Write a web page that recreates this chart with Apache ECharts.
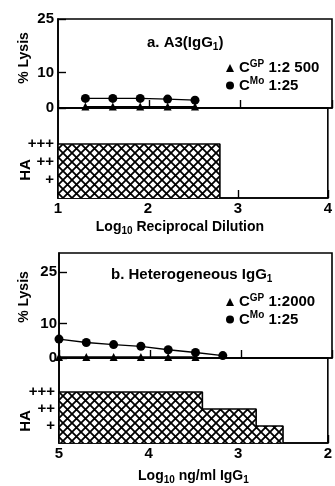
<!DOCTYPE html>
<html>
<head>
<meta charset="utf-8">
<script src="https://cdn.jsdelivr.net/npm/echarts@6/dist/echarts.min.js"></script>
<style>
  html, body { margin: 0; padding: 0; background: #fff; }
  #chart { width: 335px; height: 486px; }
</style>
</head>
<body>
<div id="chart"></div>
<script>
// panel a: A3 (IgG1), x = log10 reciprocal dilution
const dilutionA = [1.3, 1.6, 1.9, 2.2, 2.5];
const lysisMoA = [2.7, 2.7, 2.7, 2.5, 2.2];
const lysisGpA = [0.4, 0.4, 0.4, 0.4, 0.4];
const haEdgesA = [1, 2.8];
const haLevelsA = [3];

// panel b: heterogeneous IgG1, x = log10 ng/ml IgG1
const concB = [5, 4.7, 4.4, 4.1, 3.8, 3.5, 3.2];
const lysisMoB = [5.5, 4.5, 3.9, 3.4, 2.4, 1.6, 0.7];
const concGpB = [5, 4.7, 4.4, 4.1, 3.8, 3.5];
const lysisGpB = [0.3, 0.3, 0.3, 0.3, 0.3, 0.3];
const haEdgesB = [5, 3.4, 2.8, 2.5];
const haLevelsB = [3, 2, 1];

const lysisTicks = [0, 10, 25];
const haTicks = [1, 2, 3];
const haLabels = { 1: '+', 2: '++', 3: '+++' };

const FONT = "'Liberation Sans', Arial, sans-serif";

// crosshatch fill
function hatch() {
  const p = 9;
  const c = document.createElement('canvas');
  c.width = p; c.height = p;
  const g = c.getContext('2d');
  g.fillStyle = '#fff';
  g.fillRect(0, 0, p, p);
  g.strokeStyle = '#000';
  g.lineWidth = 1.8;
  g.beginPath();
  g.moveTo(-1, -1); g.lineTo(p + 1, p + 1);
  g.moveTo(-1, p + 1); g.lineTo(p + 1, -1);
  g.stroke();
  return { image: c, repeat: 'repeat' };
}

function stepOutline(edges, levels) {
  const pts = [[edges[0], 0]];
  levels.forEach((lv, i) => {
    pts.push([edges[i], lv]);
    pts.push([edges[i + 1], lv]);
  });
  pts.push([edges[edges.length - 1], 0]);
  return pts;
}

const zip = (xs, ys) => xs.map((x, i) => [x, ys[i]]);

function richSet(size) {
  return {
    b: { fontSize: size, fontWeight: 'bold', fontFamily: FONT, color: '#000', lineHeight: 18 },
    s: { fontSize: 10, fontWeight: 'bold', fontFamily: FONT, color: '#000', lineHeight: 9, verticalAlign: 'top' },
    d: { fontSize: 10, fontWeight: 'bold', fontFamily: FONT, color: '#000', lineHeight: 9, verticalAlign: 'bottom' }
  };
}
const rich15 = richSet(15);
const rich14 = richSet(14);

const legendText = {
  'CGP 1:2 500': '{b|C}{s|GP}{b| 1:2 500}',
  'CGP 1:2000': '{b|C}{s|GP}{b| 1:2000}',
  'CMo 1:25': '{b|C}{s|Mo}{b| 1:25}'
};

const chart = echarts.init(document.getElementById('chart'), null, { renderer: 'canvas' });

const frame = { show: true, borderColor: '#000', borderWidth: 1.6, backgroundColor: 'transparent' };

function xAxisDef(grid, min, max, inverse, labels, name, nameOffset, gap) {
  return {
    type: 'value', gridIndex: grid, min: min, max: max, interval: 1, inverse: inverse,
    axisLine: { show: true, onZero: false, lineStyle: { color: '#000', width: 1.6 } },
    axisTick: { show: true, inside: true, length: 8, lineStyle: { color: '#000', width: 1.4 } },
    axisLabel: { show: labels, margin: 3, fontSize: 15, fontWeight: 'bold', fontFamily: FONT, color: '#000' },
    splitLine: { show: false },
    name: name, nameLocation: 'middle', nameGap: gap,
    nameTextStyle: { rich: rich14, padding: nameOffset }
  };
}

function lysisY(grid, max, margin) {
  return {
    type: 'value', gridIndex: grid, min: 0, max: max,
    axisLine: { show: true, lineStyle: { color: '#000', width: 1.6 } },
    axisTick: { show: true, inside: true, length: 8, customValues: lysisTicks, lineStyle: { color: '#000', width: 1.4 } },
    axisLabel: { margin: margin, customValues: lysisTicks, fontSize: 15, fontWeight: 'bold', fontFamily: FONT, color: '#000' },
    splitLine: { show: false }
  };
}

function haY(grid) {
  return {
    type: 'value', gridIndex: grid, min: 0, max: 5,
    axisLine: { show: true, lineStyle: { color: '#000', width: 1.6 } },
    axisTick: { show: false },
    axisLabel: {
      margin: 4, customValues: haTicks, fontSize: 15, fontWeight: 'bold', fontFamily: FONT, color: '#000',
      formatter: v => haLabels[v] || ''
    },
    splitLine: { show: false }
  };
}

const pattern = hatch();

const option = {
  animation: false,
  backgroundColor: '#fff',
  title: [
    { text: '{b|a. A3(IgG}{d|1}{b|)}', left: 147, top: 34, padding: 0, textStyle: { rich: rich15 } },
    { text: '{b|b. Heterogeneous IgG}{d|1}', left: 111, top: 266, padding: 0, textStyle: { rich: rich15 } }
  ],
  legend: [
    {
      left: 226, top: 59, orient: 'vertical', padding: 0, itemGap: 1, itemWidth: 8, itemHeight: 8,
      data: [{ name: 'CGP 1:2 500', icon: 'triangle' }, { name: 'CMo 1:25', icon: 'circle' }],
      formatter: n => legendText[n], textStyle: { rich: rich15 }, selectedMode: false
    },
    {
      left: 226, top: 293, orient: 'vertical', padding: 0, itemGap: 1, itemWidth: 8, itemHeight: 8,
      data: [{ name: 'CGP 1:2000', icon: 'triangle' }, { name: 'CMo 1:25', icon: 'circle' }],
      formatter: n => legendText[n], textStyle: { rich: rich15 }, selectedMode: false
    }
  ],
  grid: [
    Object.assign({ left: 58, top: 19, width: 274, height: 89 }, frame),
    Object.assign({ left: 58, top: 108, width: 274, height: 90 }, frame),
    Object.assign({ left: 59, top: 253, width: 273, height: 105 }, frame),
    Object.assign({ left: 59, top: 358, width: 273, height: 91 }, frame)
  ],
  xAxis: [
    xAxisDef(0, 1, 4, false, false, '', 0, 0),
    xAxisDef(1, 1, 4, false, true, '{b|Log}{d|10}{b| Reciprocal Dilution}', [0, 26, 0, 0], 20),
    xAxisDef(2, 2, 5, true, false, '', 0, 0),
    xAxisDef(3, 2, 5, true, true, '{b|Log}{d|10}{b| ng/ml IgG}{d|1}', [0, 0, 0, 0], 24)
  ],
  yAxis: [
    lysisY(0, 25, 4),
    haY(1),
    lysisY(2, 30.5, 2),
    haY(3)
  ],
  graphic: [
    { type: 'text', x: 24, y: 58, rotation: Math.PI / 2, style: { text: '% Lysis', font: 'bold 14px ' + FONT, fill: '#000', align: 'center', verticalAlign: 'middle' } },
    { type: 'text', x: 26, y: 170, rotation: Math.PI / 2, style: { text: 'HA', font: 'bold 15px ' + FONT, fill: '#000', align: 'center', verticalAlign: 'middle' } },
    { type: 'text', x: 24, y: 297, rotation: Math.PI / 2, style: { text: '% Lysis', font: 'bold 14px ' + FONT, fill: '#000', align: 'center', verticalAlign: 'middle' } },
    { type: 'text', x: 26, y: 421, rotation: Math.PI / 2, style: { text: 'HA', font: 'bold 15px ' + FONT, fill: '#000', align: 'center', verticalAlign: 'middle' } }
  ],
  series: [
    {
      name: 'CGP 1:2 500', type: 'line', xAxisIndex: 0, yAxisIndex: 0,
      data: zip(dilutionA, lysisGpA), symbol: 'triangle', symbolSize: 8,
      itemStyle: { color: '#000' }, lineStyle: { color: '#000', width: 1.3 }
    },
    {
      name: 'CMo 1:25', type: 'line', xAxisIndex: 0, yAxisIndex: 0,
      data: zip(dilutionA, lysisMoA), symbol: 'circle', symbolSize: 9,
      itemStyle: { color: '#000' }, lineStyle: { color: '#000', width: 1.3 }
    },
    {
      type: 'line', xAxisIndex: 1, yAxisIndex: 1, data: stepOutline(haEdgesA, haLevelsA),
      symbol: 'none', lineStyle: { color: '#000', width: 1.6 }, areaStyle: { color: pattern, opacity: 1 }
    },
    {
      name: 'CGP 1:2000', type: 'line', xAxisIndex: 2, yAxisIndex: 2,
      data: zip(concGpB, lysisGpB), symbol: 'triangle', symbolSize: 8,
      itemStyle: { color: '#000' }, lineStyle: { color: '#000', width: 1.3 }
    },
    {
      name: 'CMo 1:25', type: 'line', xAxisIndex: 2, yAxisIndex: 2,
      data: zip(concB, lysisMoB), symbol: 'circle', symbolSize: 9,
      itemStyle: { color: '#000' }, lineStyle: { color: '#000', width: 1.3 }
    },
    {
      type: 'line', xAxisIndex: 3, yAxisIndex: 3, data: stepOutline(haEdgesB, haLevelsB),
      symbol: 'none', lineStyle: { color: '#000', width: 1.6 }, areaStyle: { color: pattern, opacity: 1 }
    }
  ]
};

chart.setOption(option);
</script>
</body>
</html>
